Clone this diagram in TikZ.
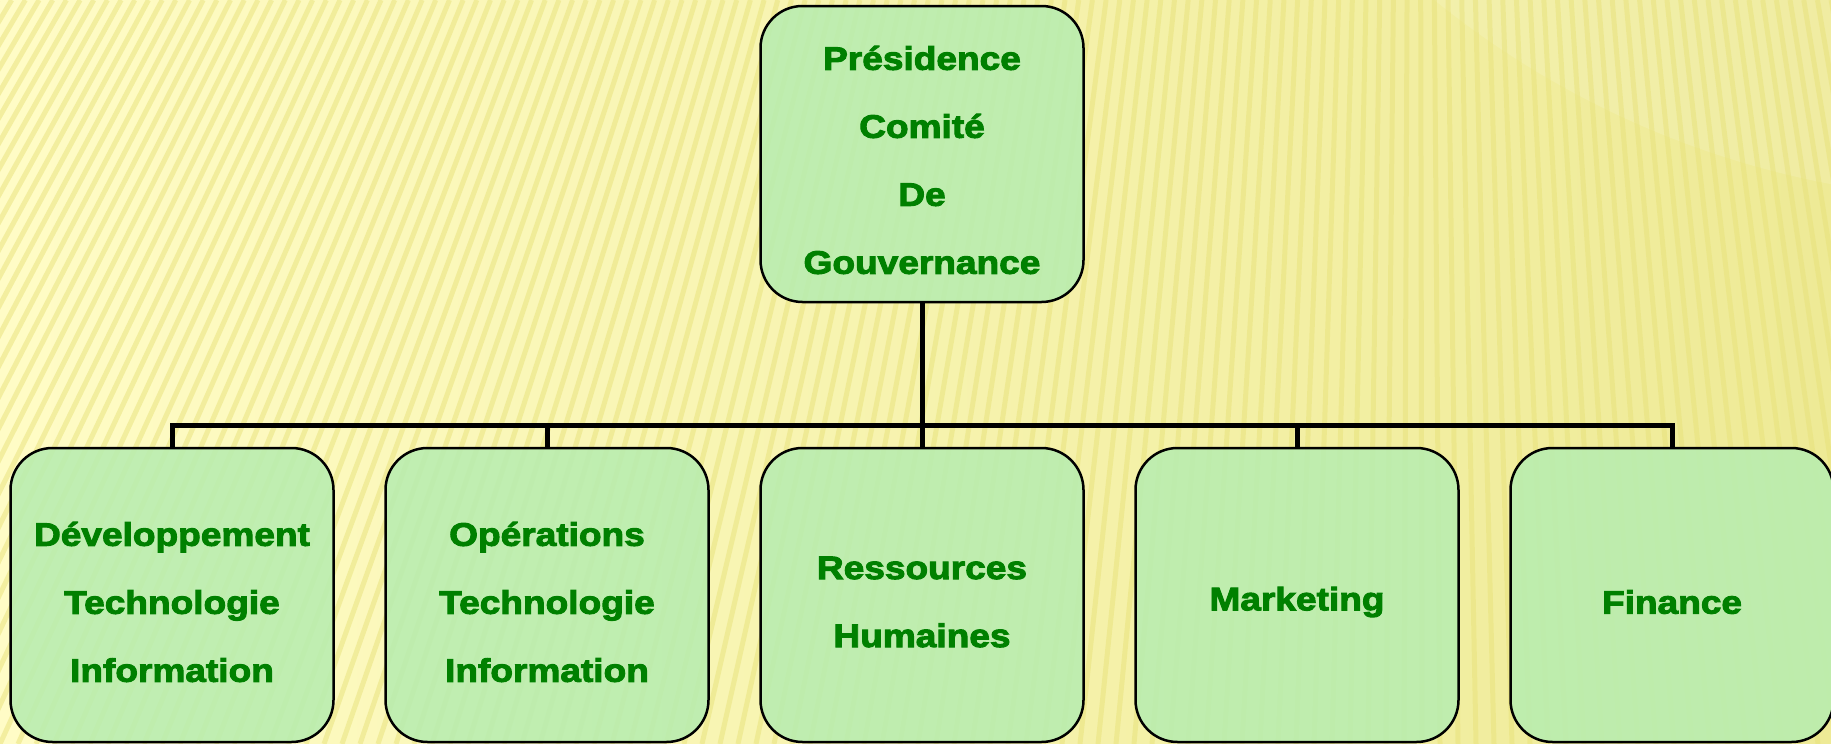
\documentclass[tikz,border=0pt]{standalone}
\usepackage{fontspec}
\newfontfamily\boxfont{Liberation Sans}[FakeStretch=1.14,FakeBold=3]
\usetikzlibrary{calc}
\definecolor{bgA}{HTML}{FFFCC6}
\definecolor{bgB}{HTML}{EEEA96}
\definecolor{stripe}{HTML}{E8E27A}
\definecolor{boxgreen}{HTML}{B8EDB0}
\definecolor{txtgreen}{HTML}{008000}
\tikzset{
  orgbox/.style={draw=black, line width=2.5pt, rounded corners=42pt,
    fill=boxgreen, fill opacity=0.88,
    minimum width=323pt, minimum height=294pt, inner sep=0pt},
  boxtext/.style={align=center, text=txtgreen, inner sep=0pt,
    font=\boxfont\bfseries\fontsize{32.5}{68}\selectfont},
  conn/.style={draw=black, line width=5pt, line join=miter}
}
\begin{document}
\begin{tikzpicture}[x=1pt,y=-1pt]
\useasboundingbox (0,0) rectangle (1831,744);
% background
\shade[left color=bgA, right color=bgB] (0,0) rectangle (1831,744);
\begin{scope}
\clip (0,0) rectangle (1831,744);
\fill[white, opacity=0.12] (2000,-700) circle (900);
\foreach \i in {-25,...,110}{
  \pgfmathsetmacro{\xb}{\i*18}
  \pgfmathsetmacro{\xt}{\xb+340-0.24*\xb}
  \draw[stripe, line width=5pt, opacity=0.5] (\xb,744) -- (\xt,0);
}
\end{scope}
% boxes
\node[orgbox, minimum height=296pt] (top) at (922,154) {};
\node[orgbox] (b1) at (172,595) {};
\node[orgbox] (b2) at (547,595) {};
\node[orgbox] (b3) at (922,595) {};
\node[orgbox] (b4) at (1297,595) {};
\node[orgbox] (b5) at (1672,595) {};
% texts
\node[boxtext] (ttop) at ([yshift=-6pt]top.center) {Présidence\\Comité\\De\\Gouvernance};
\node[boxtext] (t1) at ([yshift=-7pt]b1.center) {Développement\\Technologie\\Information};
\node[boxtext] (t2) at ([yshift=-7pt]b2.center) {Opérations\\Technologie\\Information};
\node[boxtext] (t3) at ([yshift=-7pt]b3.center) {Ressources\\Humaines};
\node[boxtext] (t4) at ([yshift=-7pt]b4.center) {Marketing};
\node[boxtext] (t5) at ([yshift=-7pt]b5.center) {Finance};
\coordinate (bar) at (0,425);
% connectors
\draw[conn] (top.south) -- (top.south |- bar);
\draw[conn] (b1.north) -- (b1.north |- bar) -- (b5.north |- bar) -- (b5.north);
\draw[conn] (b2.north) -- (b2.north |- bar);
\draw[conn] (b3.north) -- (b3.north |- bar);
\draw[conn] (b4.north) -- (b4.north |- bar);
\end{tikzpicture}
\end{document}
